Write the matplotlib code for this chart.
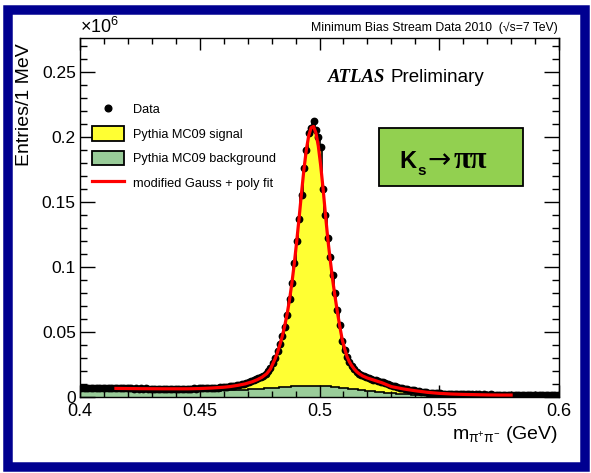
import numpy as np
import matplotlib.pyplot as plt
from matplotlib.patches import Rectangle, Patch
from matplotlib.lines import Line2D
from matplotlib.ticker import MultipleLocator

plt.rcParams['font.family'] = ['Liberation Sans', 'DejaVu Sans']
plt.rcParams['mathtext.fontset'] = 'custom'
plt.rcParams['mathtext.rm'] = 'Liberation Sans'
plt.rcParams['mathtext.it'] = 'Liberation Sans:italic'
plt.rcParams['mathtext.bf'] = 'Liberation Sans:bold'

# histogram binning: 1 MeV bins from 0.4 to 0.6 GeV
edges = np.linspace(0.4, 0.6, 201)
centers = 0.5 * (edges[:-1] + edges[1:])

# entries per bin, in thousands
data_k = [
    6.9, 7.0, 6.8, 6.9, 7.0, 6.8, 6.9, 6.8, 6.9, 6.7,
    6.8, 6.7, 6.8, 6.7, 6.6, 6.8, 6.7, 6.6, 6.7, 6.6,
    6.6, 6.7, 6.5, 6.6, 6.5, 6.6, 6.5, 6.6, 6.4, 6.5,
    6.5, 6.4, 6.5, 6.4, 6.5, 6.4, 6.4, 6.5, 6.4, 6.4,
    6.4, 6.5, 6.4, 6.5, 6.4, 6.5, 6.5, 6.6, 6.5, 6.6,
    6.6, 6.7, 6.7, 6.8, 6.9, 7.0, 7.1, 7.2, 7.4, 7.5,
    7.7, 7.9, 8.1, 8.4, 8.7, 9.0, 9.4, 9.8, 10.3, 10.8,
    11.4, 12.0, 12.7, 13.5, 14.4, 15.5, 16.5, 18.0, 19.8, 22.0,
    26.0, 30.0, 35.0, 41.0, 47.0, 54.0, 63.0, 75.0, 88.0, 103.0,
    120.0, 137.0, 155.0, 176.0, 190.0, 203.0, 207.0, 212.0, 205.0, 200.0,
    192.0, 160.0, 140.0, 122.0, 108.0, 94.0, 80.0, 67.0, 55.0, 43.0,
    36.0, 31.0, 27.0, 24.0, 21.5, 19.5, 18.0, 16.8, 15.8, 15.0,
    14.6, 14.0, 13.4, 12.9, 12.4, 11.8, 11.2, 10.6, 10.0, 9.4,
    8.8, 8.3, 7.8, 7.3, 6.8, 6.4, 6.0, 5.6, 5.3, 5.0,
    4.6, 4.3, 4.0, 3.8, 3.6, 3.4, 3.2, 3.0, 2.9, 2.8,
    2.7, 2.6, 2.5, 2.4, 2.4, 2.3, 2.2, 2.2, 2.1, 2.1,
    2.1, 2.0, 2.0, 2.1, 1.9, 2.0, 2.0, 1.9, 2.0, 1.9,
    1.9, 2.0, 1.9, 1.9, 1.8, 1.9, 1.9, 1.8, 1.9, 1.8,
    1.8, 1.9, 1.8, 1.8, 1.9, 1.8, 1.7, 1.8, 1.8, 1.7,
    1.8, 1.7, 1.7, 1.8, 1.7, 1.7, 1.8, 1.7, 1.7, 1.7,
]

bkg_k = [
    4.6, 4.6, 4.6, 4.6, 4.6, 4.6, 4.6, 4.6, 4.6, 4.6,
    4.6, 4.6, 4.6, 4.6, 4.6, 4.6, 4.6, 4.6, 4.6, 4.6,
    4.6, 4.6, 4.6, 4.6, 4.6, 4.6, 4.6, 4.6, 4.6, 4.6,
    4.7, 4.7, 4.7, 4.7, 4.7, 4.7, 4.7, 4.7, 4.7, 4.7,
    4.7, 4.7, 4.7, 4.7, 4.7, 4.7, 4.7, 4.7, 4.7, 4.7,
    4.8, 4.8, 4.8, 4.8, 4.8, 4.9, 4.9, 4.9, 4.9, 5.0,
    5.0, 5.1, 5.1, 5.2, 5.3, 5.3, 5.4, 5.5, 5.6, 5.7,
    5.8, 5.9, 6.0, 6.1, 6.2, 6.3, 6.5, 6.6, 6.8, 6.9,
    7.0, 7.2, 7.3, 7.5, 7.6, 7.7, 7.9, 8.0, 8.1, 8.2,
    8.3, 8.4, 8.5, 8.6, 8.7, 8.7, 8.8, 8.8, 8.7, 8.7,
    8.6, 8.5, 8.4, 8.2, 8.1, 7.9, 7.7, 7.5, 7.3, 7.1,
    6.9, 6.7, 6.4, 6.2, 6.0, 5.8, 5.5, 5.3, 5.1, 4.9,
    4.7, 4.5, 4.3, 4.1, 3.9, 3.7, 3.5, 3.3, 3.2, 3.0,
    2.9, 2.7, 2.6, 2.5, 2.3, 2.2, 2.1, 2.0, 1.9, 1.8,
    1.7, 1.6, 1.6, 1.5, 1.4, 1.4, 1.3, 1.3, 1.2, 1.2,
    1.1, 1.1, 1.1, 1.1, 1.1, 1.1, 1.1, 1.1, 1.1, 1.1,
    1.0, 1.0, 1.0, 1.0, 1.0, 1.0, 1.0, 1.0, 1.0, 1.0,
    1.0, 1.0, 1.0, 1.0, 1.0, 1.0, 1.0, 1.0, 1.0, 1.0,
    1.0, 1.0, 1.0, 1.0, 1.0, 1.0, 1.0, 1.0, 1.0, 1.0,
    1.0, 1.0, 1.0, 1.0, 1.0, 1.0, 1.0, 1.0, 1.0, 1.0,
]

sig_k = [
    2.2, 2.2, 2.2, 2.2, 2.1, 2.1, 2.1, 2.1, 2.1, 2.0,
    2.0, 2.0, 2.0, 2.0, 2.0, 1.9, 1.9, 1.9, 1.9, 1.9,
    1.9, 1.9, 1.9, 1.9, 1.9, 1.8, 1.8, 1.8, 1.8, 1.8,
    1.7, 1.7, 1.7, 1.7, 1.7, 1.7, 1.7, 1.7, 1.7, 1.7,
    1.7, 1.7, 1.7, 1.7, 1.7, 1.7, 1.8, 1.8, 1.8, 1.8,
    1.8, 1.8, 1.9, 1.9, 2.0, 2.0, 2.1, 2.2, 2.3, 2.4,
    2.7, 2.8, 3.0, 3.2, 3.4, 3.7, 4.0, 4.3, 4.7, 5.1,
    5.6, 6.1, 6.7, 7.4, 8.2, 9.2, 10.0, 11.4, 13.0, 15.1,
    18.5, 22.0, 27.0, 32.5, 38.5, 45.5, 54.0, 66.0, 79.0, 94.0,
    111.0, 128.0, 146.0, 166.0, 182.0, 194.0, 199.0, 203.0, 197.0, 191.0,
    183.0, 153.0, 131.0, 113.0, 99.0, 86.0, 72.0, 59.0, 47.0, 36.0,
    29.0, 24.0, 20.5, 17.8, 15.5, 13.7, 12.5, 11.5, 10.7, 10.1,
    9.9, 9.5, 9.1, 8.8, 8.5, 8.1, 7.7, 7.3, 6.8, 6.4,
    5.9, 5.6, 5.2, 4.8, 4.5, 4.2, 3.9, 3.6, 3.4, 3.2,
    2.9, 2.7, 2.4, 2.3, 2.2, 2.0, 1.9, 1.7, 1.7, 1.6,
    1.6, 1.5, 1.4, 1.3, 1.3, 1.2, 1.1, 1.1, 1.0, 1.0,
    1.0, 0.9, 0.9, 1.0, 0.9, 0.9, 0.9, 0.8, 0.9, 0.8,
    0.8, 0.9, 0.8, 0.8, 0.8, 0.8, 0.8, 0.7, 0.8, 0.7,
    0.7, 0.8, 0.7, 0.7, 0.8, 0.7, 0.7, 0.7, 0.7, 0.7,
    0.7, 0.7, 0.7, 0.7, 0.7, 0.7, 0.7, 0.7, 0.7, 0.7,
]

# fitted curve (modified Gauss + polynomial), thousands of entries
fit_m = [0.415, 0.425, 0.435, 0.445, 0.450, 0.455, 0.460, 0.463, 0.466, 0.469,
         0.472, 0.474, 0.476, 0.478, 0.4795, 0.4805, 0.4815, 0.4825, 0.4835, 0.4845,
         0.4855, 0.4865, 0.4875, 0.4885, 0.4895, 0.4905, 0.4915, 0.4925, 0.4935, 0.4945,
         0.4955, 0.4965, 0.4975, 0.4985, 0.4995, 0.5005, 0.5015, 0.5025, 0.5035, 0.5045,
         0.5055, 0.5065, 0.5075, 0.5085, 0.5095, 0.5105, 0.5115, 0.5125, 0.5135, 0.5145,
         0.5155, 0.5165, 0.518, 0.520, 0.523, 0.526, 0.530, 0.535, 0.540, 0.545,
         0.550, 0.555, 0.560, 0.565, 0.570, 0.575, 0.580]
fit_k = [6.6, 6.4, 6.3, 6.3, 6.5, 6.9, 7.5, 8.1, 9.0, 10.1,
         11.8, 13.3, 15.2, 18.0, 21.5, 25.5, 29.5, 34.5, 40.5, 47.0,
         55.0, 64.0, 75.0, 88.0, 103.0, 120.0, 138.0, 157.0, 175.0, 190.0,
         201.0, 207.0, 208.0, 203.0, 193.0, 178.0, 160.0, 140.0, 121.0, 105.0,
         90.0, 77.0, 65.0, 54.0, 44.0, 37.0, 31.0, 27.0, 24.0, 21.5,
         19.5, 18.0, 16.2, 14.6, 12.8, 11.0, 8.0, 6.2, 4.8, 3.6,
         2.8, 2.3, 2.0, 1.8, 1.6, 1.5, 1.5]

data = np.array(data_k) / 1000.0
bkg = np.array(bkg_k) / 1000.0
sig = np.array(sig_k) / 1000.0
fit = np.array(fit_k) / 1000.0
data_err = np.sqrt(np.array(data_k) * 1000.0) / 1e6

W, H = 591, 473
fig = plt.figure(figsize=(W / 100, H / 100), dpi=100)
ax = fig.add_axes([80 / W, 1 - 397 / H, 479 / W, 359 / H])


def fx(px):
    return px / W


def fy(py):
    return 1 - py / H


# stacked MC: background + signal
total = bkg + sig
ax.stairs(total, edges, fill=True, color='#ffff33', zorder=1)
ax.stairs(bkg, edges, fill=True, color='#99cc99', zorder=1.5)
ax.stairs(total, edges, color='black', lw=1.2, zorder=2)
ax.stairs(bkg, edges, color='black', lw=1.2, zorder=2)

ax.errorbar(centers, data, xerr=0.0005, yerr=data_err, fmt='o', color='black',
            ms=4.6, elinewidth=1.6, capsize=0, zorder=3)
ax.plot(fit_m, fit, color='red', lw=2.3, zorder=4)

ax.set_xlim(0.4, 0.6)
ax.set_ylim(0, 0.276)
ax.xaxis.set_major_locator(MultipleLocator(0.05))
ax.xaxis.set_minor_locator(MultipleLocator(0.01))
ax.yaxis.set_major_locator(MultipleLocator(0.05))
ax.yaxis.set_minor_locator(MultipleLocator(0.01))
ax.xaxis.set_major_formatter(plt.FuncFormatter(lambda v, p: '%g' % round(v, 3)))
ax.yaxis.set_major_formatter(plt.FuncFormatter(lambda v, p: '%g' % round(v, 3)))
ax.tick_params(which='both', direction='in', top=True, right=True, width=1.0)
ax.tick_params(axis='x', which='major', length=8.5, labelsize=13, pad=4)
ax.tick_params(axis='x', which='minor', length=4.5)
ax.tick_params(axis='y', which='major', length=10.5, labelsize=12.5, pad=3)
ax.tick_params(axis='y', which='minor', length=5)
for s in ax.spines.values():
    s.set_linewidth(1.0)

fig.text(fx(80), fy(33), r'$\times$10$^{6}$', fontsize=13, ha='left', va='baseline')
fig.text(fx(25), fy(105), 'Entries/1 MeV', fontsize=14, rotation=90, ha='center', va='center')
fig.text(fx(558), fy(439), r'm$_{\mathrm{\pi^{+}\pi^{-}}}$ (GeV)', fontsize=14, ha='right', va='baseline')
fig.text(fx(558), fy(31), 'Minimum Bias Stream Data 2010  (\u221as=7 TeV)', fontsize=8.8,
         ha='right', va='baseline', family=['Liberation Sans', 'DejaVu Sans'])
fig.text(fx(328), fy(82), 'ATLAS', fontsize=13.5, family='Liberation Serif',
         weight='bold', style='italic', ha='left', va='baseline')
fig.text(fx(390), fy(82), 'Preliminary', fontsize=13.5, ha='left', va='baseline')

# K_s -> pi pi label box
ax.add_patch(Rectangle(((379 - 80) / 479, (397 - 186) / 359), 144 / 479, 58 / 359,
                       transform=ax.transAxes, facecolor='#92d050', edgecolor='black',
                       lw=1.3, zorder=5))
fig.text(fx(399), fy(168), 'K', fontsize=17, weight='bold', ha='left', va='baseline', zorder=6)
fig.text(fx(417.5), fy(175), 's', fontsize=11, weight='bold', ha='left', va='baseline', zorder=6)
fig.text(fx(427), fy(168), '\u2192', fontsize=20, family=['DejaVu Sans'], ha='left', va='baseline', zorder=6)
fig.text(fx(454), fy(168), '\u03c0\u03c0', fontsize=22, family=['Liberation Serif', 'DejaVu Serif'],
         weight='bold', ha='left', va='baseline', zorder=6)

# legend
handles = [
    Line2D([], [], marker='o', color='black', ls='none', ms=4.8),
    Patch(facecolor='#ffff33', edgecolor='black', lw=1.3),
    Patch(facecolor='#99cc99', edgecolor='black', lw=1.3),
    Line2D([], [], color='red', lw=2.3),
]
labels = ['Data', 'Pythia MC09 signal', 'Pythia MC09 background', 'modified Gauss + poly fit']
fig.legend(handles, labels, loc='upper left', bbox_to_anchor=(fx(92), fy(102)),
           frameon=False, fontsize=9.2, borderpad=0, borderaxespad=0,
           handlelength=2.5, handleheight=1.35, handletextpad=0.7, labelspacing=0.78)

# navy frame around the whole figure
fig.add_artist(Rectangle((fx(7.5), fy(467)), (585 - 7.5) / W, (467 - 10.5) / H,
                         transform=fig.transFigure, fill=False, edgecolor='#000090',
                         lw=9.5 * 72 / 100, zorder=10))

fig.savefig('out.png', dpi=100)
